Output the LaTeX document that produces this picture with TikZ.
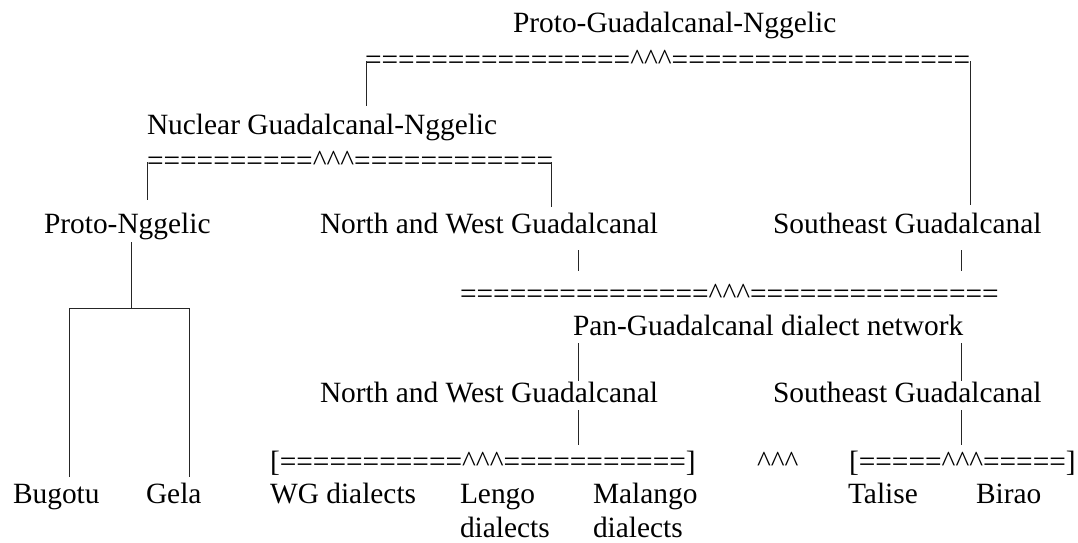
\documentclass[tikz,border=0pt]{standalone}
\usepackage{fontspec}
\setmainfont{Liberation Serif}
\begin{document}
\begin{tikzpicture}[x=1pt,y=-1pt,
  lbl/.style={anchor=base west,inner sep=0pt,outer sep=0pt,font=\fontsize{29.4}{34}\selectfont},
  conn/.style={line width=1pt,black!85}]
\useasboundingbox (0,0) rectangle (1078,542);
% texts
\node[lbl] (pgn) at (513,32) {Proto-Guadalcanal-Nggelic};
\node[lbl] (eqa) at (365,69) {================\^{}\^{}\^{}==================};
\node[lbl] (ngn) at (147,134) {Nuclear Guadalcanal-Nggelic};
\node[lbl] (eqb) at (147,170) {==========\^{}\^{}\^{}============};
\node[lbl] (png) at (44,233) {Proto-Nggelic};
\node[lbl] (nwa) at (320,233) {North and West Guadalcanal};
\node[lbl] (sea) at (773,233) {Southeast Guadalcanal};
\node[lbl] (eqc) at (460,303) {===============\^{}\^{}\^{}===============};
\node[lbl] (pan) at (573,335) {Pan-Guadalcanal dialect network};
\node[lbl] (nwb) at (320,402) {North and West Guadalcanal};
\node[lbl] (seb) at (773,402) {Southeast Guadalcanal};
\node[lbl] (bra) at (270,471) {[===========\^{}\^{}\^{}===========]};
\node[lbl] (car) at (757,471) {\^{}\^{}\^{}};
\node[lbl] (brb) at (849,471) {[=====\^{}\^{}\^{}=====]};
\node[lbl] (bug) at (13,503) {Bugotu};
\node[lbl] (gel) at (146,503) {Gela};
\node[lbl] (wgd) at (270,503) {WG dialects};
\node[lbl] (len) at (460,503) {\begin{tabular}[t]{@{}l@{}}Lengo\\dialects\end{tabular}};
\node[lbl] (mal) at (593,503) {\begin{tabular}[t]{@{}l@{}}Malango\\dialects\end{tabular}};
\node[lbl] (tal) at (848,503) {Talise};
\node[lbl] (bir) at (976,503) {Birao};
% connector points
\coordinate (a1) at (366,61);  \coordinate (a2) at (366,106);
\coordinate (b1) at (970,61);  \coordinate (b2) at (970,205);
\coordinate (c1) at (147,162); \coordinate (c2) at (147,200);
\coordinate (d1) at (551,162); \coordinate (d2) at (551,207);
\coordinate (e1) at (131,242); \coordinate (e2) at (131,308);
\coordinate (f1) at (69,308);  \coordinate (f2) at (69,477);
\coordinate (g1) at (189,308); \coordinate (g2) at (189,477);
\coordinate (h1) at (578,250); \coordinate (h2) at (578,271);
\coordinate (i1) at (961,250); \coordinate (i2) at (961,271);
\coordinate (j1) at (578,343); \coordinate (j2) at (578,381);
\coordinate (k1) at (961,343); \coordinate (k2) at (961,381);
\coordinate (l1) at (578,410); \coordinate (l2) at (578,445);
\coordinate (m1) at (961,410); \coordinate (m2) at (961,445);
% connectors
\draw[conn] (a1) -- (a2);
\draw[conn] (b1) -- (b2);
\draw[conn] (c1) -- (c2);
\draw[conn] (d1) -- (d2);
\draw[conn] (e1) -- (e2);
\draw[conn] (f2) -- (f1) -- (g1) -- (g2);
\draw[conn] (h1) -- (h2);
\draw[conn] (i1) -- (i2);
\draw[conn] (j1) -- (j2);
\draw[conn] (k1) -- (k2);
\draw[conn] (l1) -- (l2);
\draw[conn] (m1) -- (m2);
\end{tikzpicture}
\end{document}
